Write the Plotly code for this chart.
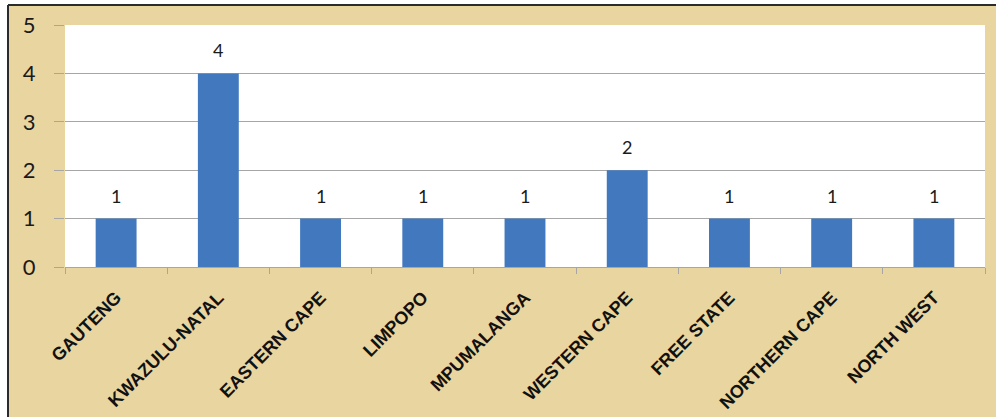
import plotly.graph_objects as go

categories = ["GAUTENG", "KWAZULU-NATAL", "EASTERN CAPE", "LIMPOPO", "MPUMALANGA",
              "WESTERN CAPE", "FREE STATE", "NORTHERN CAPE", "NORTH WEST"]
values = [1, 4, 1, 1, 1, 2, 1, 1, 1]
y_ticks = [0, 1, 2, 3, 4, 5]

PARCHMENT = "#E9D5A0"
BAR = "#4178BE"
GRID = "#A6A6A6"

fig = go.Figure()
fig.add_trace(go.Bar(x=categories, y=values, marker=dict(color=BAR, line=dict(width=0)),
                     hoverinfo="x+y"))

for c, v in zip(categories, values):
    fig.add_annotation(x=c, y=v, text=str(v), showarrow=False, yanchor="bottom",
                       yshift=10, font=dict(family="Lato", size=18, color="#1a1a1a"))

# paper coordinates relative to plot area (l=65, w=920, t=25, h=242)
xl = (8 - 65) / 920
yt = (267 - 5) / 242
shapes = [
    dict(type="rect", xref="paper", yref="paper", x0=-0.2, x1=xl, y0=-0.8, y1=1.3,
         fillcolor="white", line=dict(width=0), layer="below"),
    dict(type="rect", xref="paper", yref="paper", x0=-0.2, x1=1.2, y0=yt, y1=1.3,
         fillcolor="white", line=dict(width=0), layer="below"),
    dict(type="line", xref="paper", yref="paper", x0=xl, x1=1.2, y0=yt, y1=yt,
         line=dict(color="#2b2b2b", width=2)),
    dict(type="line", xref="paper", yref="paper", x0=xl, x1=xl, y0=-0.8, y1=yt,
         line=dict(color="#2b2b2b", width=2)),
]

fig.update_layout(
    width=996, height=417,
    margin=dict(l=65, r=11, t=25, b=150, pad=0, autoexpand=False),
    paper_bgcolor=PARCHMENT,
    plot_bgcolor="white",
    showlegend=False,
    bargap=0.6,
    shapes=shapes,
    xaxis=dict(
        type="category",
        automargin=False,
        tickangle=-45,
        tickfont=dict(family="Liberation Sans", size=18, color="#111111", weight="bold"),
        showline=True, linecolor=GRID, linewidth=1,
        ticks="outside", tickson="boundaries", ticklen=6, tickcolor=GRID,
        showgrid=False,
        ticklabelstandoff=12,
    ),
    yaxis=dict(
        range=[0, 5],
        automargin=False,
        tickvals=y_ticks,
        tickfont=dict(family="Lato", size=22, color="#1a1a1a"),
        showgrid=True, gridcolor=GRID, gridwidth=1,
        ticks="outside", ticklen=10, tickcolor=GRID,
        zeroline=False, showline=False,
        ticklabelstandoff=14,
    ),
)

fig.write_html("out.html", config={"displayModeBar": False},
               post_script="document.body.style.margin='0';document.body.style.overflow='hidden';")
